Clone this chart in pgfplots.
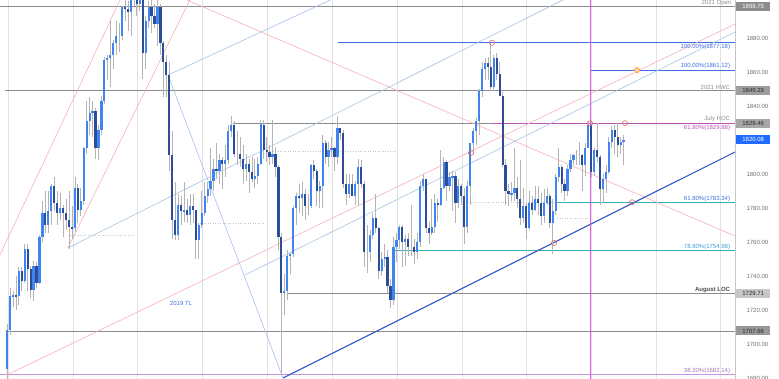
\documentclass[border=0pt]{standalone}
\usepackage{fontspec}
\setmainfont{Liberation Sans}
\usepackage{pgfplots}
\usepackage{pgfplotstable}
\pgfplotsset{compat=1.18}
\definecolor{upblue}{HTML}{3F84F0}
\definecolor{dnblue}{HTML}{2C4E96}
\definecolor{wick}{HTML}{B4B4B4}
\definecolor{tlblue}{HTML}{3F63C9}
\definecolor{ltblue}{HTML}{A3C2EC}
\definecolor{pinkl}{HTML}{F4AFBC}
\definecolor{magl}{HTML}{E35FEA}
\definecolor{magh}{HTML}{B855B8}
\definecolor{purp}{HTML}{C892E4}
\definecolor{tealc}{HTML}{3AB0B8}
\definecolor{levg}{HTML}{8C8C8C}
\definecolor{gridg}{HTML}{E2E2E2}
\definecolor{fibblue}{HTML}{3E6FE0}
\definecolor{fibteal}{HTML}{3C9AD6}
\definecolor{ticktxt}{HTML}{707070}
\definecolor{lastblue}{HTML}{1F6BFF}
\definecolor{circred}{HTML}{E06A6A}

\pgfplotstableread{
i o h l c
0 1685 1712 1678 1708
1 1708 1733 1705 1728
2 1728 1731 1722 1729
3 1729 1740 1720 1728
4 1728 1745 1723 1743
5 1743 1745 1731 1737
6 1737 1759 1736 1756
7 1756 1759 1731 1744
8 1744 1746 1727 1732
9 1732 1749 1725 1746
10 1746 1748 1733 1736
11 1736 1764 1735 1763
12 1763 1784 1760 1777
13 1777 1790 1765 1770
14 1770 1790 1765 1778
15 1778 1794 1770 1793
16 1793 1798 1778 1783
17 1783 1790 1770 1777
18 1777 1789 1773 1780
19 1780 1782 1763 1777
20 1777 1785 1767 1773
21 1773 1790 1756 1769
22 1769 1781 1762 1768
23 1768 1798 1766 1792
24 1792 1794 1771 1779
25 1779 1792 1775 1784
26 1784 1816 1782 1815
27 1815 1843 1812 1831
28 1831 1845 1823 1836
29 1836 1843 1822 1837
30 1837 1839 1809 1815
31 1815 1829 1808 1826
32 1826 1846 1823 1843
33 1843 1869 1841 1867
34 1867 1870 1855 1868
35 1868 1890 1851 1870
36 1870 1879 1862 1877
37 1877 1890 1870 1881
38 1881 1889 1872 1881
39 1881 1899 1879 1898
40 1898 1912 1890 1897
41 1897 1902 1884 1895
42 1895 1906 1881 1903
43 1903 1908 1899 1906
44 1906 1916 1893 1900
45 1900 1910 1896 1908
46 1908 1910 1856 1871
47 1871 1893 1862 1890
48 1890 1902 1886 1898
49 1898 1903 1883 1893
50 1893 1900 1886 1888
51 1888 1903 1875 1898
52 1898 1900 1870 1877
53 1877 1878 1845 1866
54 1866 1870 1845 1858
55 1858 1866 1802 1811
56 1811 1825 1762 1773
57 1773 1795 1761 1764
58 1764 1788 1761 1782
59 1782 1787 1770 1778
60 1778 1795 1772 1779
61 1779 1785 1771 1776
62 1776 1788 1770 1781
63 1781 1788 1771 1779
64 1779 1779 1750 1761
65 1761 1771 1750 1770
66 1770 1790 1768 1777
67 1777 1795 1775 1787
68 1787 1795 1783 1791
69 1791 1815 1787 1796
70 1796 1809 1790 1803
71 1803 1818 1797 1802
72 1802 1812 1794 1808
73 1808 1810 1791 1806
74 1806 1817 1798 1808
75 1808 1829 1806 1825
76 1825 1834 1822 1829
77 1829 1831 1810 1812
78 1812 1825 1805 1812
79 1812 1822 1804 1809
80 1809 1817 1794 1803
81 1803 1812 1796 1806
82 1806 1809 1789 1801
83 1801 1810 1795 1797
84 1797 1809 1792 1799
85 1799 1810 1794 1806
86 1806 1832 1805 1829.46
87 1829 1832 1809 1814
88 1814 1822 1807 1813
89 1813 1817 1805 1810
90 1810 1832 1806 1812
91 1812 1816 1798 1804
92 1804 1805 1755 1763
93 1763 1765 1682 1729.71
94 1730 1741 1717 1731
95 1731 1755 1726 1752
96 1752 1754 1741 1753
97 1753 1781 1751 1780
98 1780 1789 1770 1787
99 1787 1794 1777 1786
100 1786 1795 1775 1788
101 1788 1791 1773 1781
102 1781 1788 1776 1781
103 1781 1806 1780 1805
104 1805 1808 1797 1802
105 1802 1803 1781 1790
106 1790 1796 1780 1793
107 1793 1823 1780 1818
108 1818 1820 1806 1810
109 1810 1819 1804 1814
110 1814 1822 1810 1815
111 1815 1816 1802 1810
112 1810 1834 1806 1827
113 1827 1827 1820 1824
114 1824 1826 1792 1794
115 1794 1800 1782 1788
116 1788 1800 1786 1794
117 1794 1800 1787 1787
118 1787 1796 1782 1794
119 1794 1809 1781 1804
120 1804 1808 1792 1794
121 1794 1796 1745 1754
122 1754 1770 1742 1754
123 1754 1767 1748 1764
124 1764 1777 1762 1774
125 1774 1788 1765 1768
126 1768 1769 1738 1743
127 1743 1754 1740 1750
128 1750 1759 1745 1751
129 1751 1755 1730 1734
130 1734 1738 1721 1726
131 1726 1763 1723 1757
132 1757 1765 1748 1761
133 1761 1770 1756 1769
134 1769 1770 1745 1760
135 1760 1764 1746 1762
136 1762 1765 1752 1757
137 1757 1782 1752 1757
138 1757 1762 1747 1754
139 1754 1765 1750 1760
140 1760 1796 1757 1793
141 1793 1800 1790 1797
142 1797 1797 1765 1768
143 1768 1772 1759 1765
144 1765 1785 1764 1769
145 1769 1788 1765 1783
146 1783 1785 1772 1782
147 1782 1814 1781 1792
148 1792 1810 1791 1807
149 1807 1808 1784 1793
150 1793 1801 1790 1798
151 1798 1802 1778 1799
152 1799 1801 1771 1783
153 1783 1797 1780 1793
154 1793 1794 1782 1787
155 1787 1792 1759 1769
156 1769 1796 1765 1793
157 1793 1818 1782 1818
158 1818 1827 1812 1825
159 1825 1833 1817 1831
160 1831 1850 1823 1849
161 1849 1866 1845 1862
162 1862 1868 1855 1865
163 1865 1869 1855 1863
164 1863 1877 1850 1851
165 1851 1870 1849 1868
166 1868 1871 1855 1859
167 1859 1866 1846 1846
168 1846 1848 1804 1805
169 1805 1809 1782 1790
170 1790 1794 1781 1788
171 1788 1795 1784 1789
172 1789 1815 1784 1792
173 1792 1798 1780 1785
174 1785 1808 1770 1774
175 1774 1792 1771 1781
176 1781 1783 1762 1768
177 1768 1790 1767 1783
178 1783 1787 1776 1779
179 1779 1793 1778 1785
180 1785 1793 1776 1783
181 1783 1789 1770 1775
182 1775 1791 1771 1783
183 1783 1792 1782 1787
184 1787 1788 1768 1771
185 1771 1785 1753 1778
186 1778 1800 1776 1798
187 1798 1815 1795 1804
188 1804 1805 1789 1794
189 1794 1797 1784 1790
190 1790 1805 1787 1803
191 1803 1812 1801 1808
192 1808 1812 1805 1811
193 1811 1814 1805 1811
194 1811 1819 1805 1811
195 1811 1812 1790 1805
196 1805 1818 1799 1815
197 1815 1831 1815 1829
198 1829 1831 1798 1801
199 1801 1815 1799 1814
200 1814 1830 1807 1810
201 1810 1811 1782 1791
202 1791 1800 1783 1797
203 1797 1805 1789 1801
204 1801 1822 1800 1819
205 1819 1828 1815 1826
206 1826 1829 1812 1822
207 1822 1830 1810 1817
208 1817 1822 1812 1819
209 1819 1823 1805 1820.08
}\ohlc

\pgfplotsset{candle/.style={only marks, mark=*, mark size=0pt, mark options={draw=none, fill=none}}}

\begin{document}
\begin{tikzpicture}[x=1pt,y=1pt]
\begin{axis}[
  at={(0pt,0pt)}, anchor=south west,
  scale only axis, width=735pt, height=379pt,
  xmin=0, xmax=735, ymin=1679.4, ymax=1902.35,
  axis line style={draw=none},
  xtick={8,73,137,202,267,332,397,462,526,591,656,720},
  xticklabels={}, xmajorgrids, major grid style={gridg, line width=0.6pt},
  major tick length=0pt,
  ytick={1680,1700,1720,1740,1760,1780,1800,1840,1860,1880},
  yticklabel pos=right,
  yticklabel style={font=\fontsize{6}{7}\selectfont, text=ticktxt, xshift=8pt},
  /pgf/number format/fixed, /pgf/number format/fixed zerofill,
  /pgf/number format/precision=2, /pgf/number format/1000 sep={},
  /pgf/number format/assume math mode=true,
]
% faint dotted levels
\addplot[gray!45, dotted, line width=0.5pt] coordinates {(270,1813.5) (397,1813.5)};
\addplot[gray!45, dotted, line width=0.5pt] coordinates {(70,1764) (133,1764)};
\addplot[gray!45, dotted, line width=0.5pt] coordinates {(200,1771) (263,1771)};
\addplot[gray!45, dotted, line width=0.5pt] coordinates {(463,1783.3) (557,1783.3)};
\addplot[gray!45, dotted, line width=0.5pt] coordinates {(557,1774) (590,1774)};
% gray levels
\addplot[levg, line width=0.8pt] coordinates {(0,1898.75) (735,1898.75)};
\addplot[levg, line width=0.8pt] coordinates {(5,1849.29) (735,1849.29)};
\addplot[levg, line width=0.8pt] coordinates {(233,1829.46) (735,1829.46)};
\addplot[levg, line width=0.8pt] coordinates {(287,1729.71) (735,1729.71)};
\addplot[levg, line width=0.8pt] coordinates {(7,1707.66) (735,1707.66)};
% fib levels
\addplot[fibblue, line width=1pt] coordinates {(338,1877.18) (735,1877.18)};
\addplot[fibblue, line width=1pt] coordinates {(590,1861.12) (735,1861.12)};
\addplot[magh, line width=1pt] coordinates {(492,1829.88) (735,1829.88)};
\addplot[tealc, line width=1pt] coordinates {(555,1783.34) (735,1783.34)};
\addplot[tealc, line width=1pt] coordinates {(393,1754.98) (735,1754.98)};
\addplot[purp, line width=1.6pt] coordinates {(0,1682.14) (735,1682.14)};
% pink fan lines
\addplot[pinkl, line width=0.6pt] coordinates {(0,1752.4) (125,1908.6)};
\addplot[pinkl, line width=0.6pt] coordinates {(68,1756.5) (192,1905)};
\addplot[pinkl, line width=0.6pt] coordinates {(187,1902.35) (735,1763.5)};
\addplot[pinkl, line width=0.6pt] coordinates {(7,1681.8) (735,1888.2)};
% light blue channel lines
\addplot[ltblue, line width=0.6pt] coordinates {(68,1756.5) (600,1913.3)};
\addplot[ltblue, line width=0.6pt] coordinates {(168,1858.2) (340,1905.0)};
\addplot[ltblue, line width=0.6pt] coordinates {(168,1858.2) (283,1680)};
\addplot[ltblue, line width=0.6pt] coordinates {(245,1740.6) (735,1883.5)};
% main trendline
\addplot[tlblue, line width=1.2pt] coordinates {(283,1680) (735,1812.9)};
% magenta vertical
\addplot[magl, line width=0.7pt] coordinates {(590,1679.4) (590,1902.35)};
% wicks
\addplot[candle, error bars/.cd, y dir=both, y explicit, error mark=none,
  error bar style={draw=wick, line width=0.7pt}]
  table[x expr=7+2.95*\thisrow{i}, y expr=0.5*(\thisrow{h}+\thisrow{l}), y error expr=0.5*(\thisrow{h}-\thisrow{l})] {\ohlc};
% up bodies
\addplot[candle, restrict expr to domain={\thisrow{c}-\thisrow{o}}{0:1000},
  error bars/.cd, y dir=both, y explicit, error mark=none,
  error bar style={draw=upblue, line width=2.2pt}]
  table[x expr=7+2.95*\thisrow{i}, y expr=0.5*(\thisrow{o}+\thisrow{c}), y error expr=0.5*abs(\thisrow{c}-\thisrow{o})] {\ohlc};
% down bodies
\addplot[candle, restrict expr to domain={\thisrow{c}-\thisrow{o}}{-1000:-0.0001},
  error bars/.cd, y dir=both, y explicit, error mark=none,
  error bar style={draw=dnblue, line width=2.2pt}]
  table[x expr=7+2.95*\thisrow{i}, y expr=0.5*(\thisrow{o}+\thisrow{c}), y error expr=0.5*abs(\thisrow{c}-\thisrow{o})] {\ohlc};
% circles
\addplot[only marks, mark=o, mark size=2.6pt, circred, line width=0.6pt] coordinates {
 (492,1877.18) (471,1812.4) (590,1829.88) (625,1829.88) (632,1783.34) (554,1759.4)};
\addplot[only marks, mark=*, mark size=2.6pt, draw=orange!80, fill=orange!35, line width=0.6pt] coordinates {(637,1861.12)};
% texts
\node[anchor=south east, inner sep=0.5pt, font=\fontsize{6}{7}\selectfont, text=levg] at (axis cs:732,1898.75) {2021 Open};
\node[anchor=north east, inner sep=0.8pt, font=\fontsize{6}{7}\selectfont, text=fibblue] at (axis cs:731,1877.18) {100.00\%(1877.18)};
\node[anchor=south east, inner sep=0.8pt, font=\fontsize{6}{7}\selectfont, text=fibblue] at (axis cs:731,1861.12) {100.00\%(1861.12)};
\node[anchor=south east, inner sep=0.8pt, font=\fontsize{6}{7}\selectfont, text=levg] at (axis cs:731,1849.29) {2021 HWC};
\node[anchor=south east, inner sep=0.8pt, font=\fontsize{6}{7}\selectfont, text=levg] at (axis cs:731,1829.88) {July HOC};
\node[anchor=north east, inner sep=0.8pt, font=\fontsize{6}{7}\selectfont, text=magh] at (axis cs:731,1829.46) {61.80\%(1829.88)};
\node[anchor=south east, inner sep=0.8pt, font=\fontsize{6}{7}\selectfont, text=fibblue] at (axis cs:731,1783.34) {61.80\%(1783.34)};
\node[anchor=south east, inner sep=0.8pt, font=\fontsize{6}{7}\selectfont, text=fibteal] at (axis cs:731,1754.98) {78.60\%(1754.98)};
\node[anchor=south east, inner sep=0.8pt, font=\fontsize{6}{7}\bfseries, text=black!70] at (axis cs:731,1729.71) {August LOC};
\node[anchor=south east, inner sep=0.8pt, font=\fontsize{6}{7}\selectfont, text=purp!80!black] at (axis cs:731,1682.14) {38.20\%(1682.14)};
\node[font=\fontsize{6}{7}\selectfont, text=fibblue] at (axis cs:181,1724.1) {2019 TL};
\end{axis}
% right axis line and price boxes
\draw[gray!45, line width=0.6pt] (735,0) -- (735,379);
\begin{scope}[every node/.style={anchor=west, minimum width=34pt, minimum height=9pt, inner sep=0pt, font=\fontsize{6}{7}\selectfont}]
\node[fill=black!45, text=white] at (736,{(1898.75-1679.4)*1.7}) {1898.75};
\node[fill=black!38, text=black!85] at (736,{(1849.29-1679.4)*1.7}) {1849.29};
\node[fill=black!35, text=black!85] at (736,{(1829.46-1679.4)*1.7}) {1829.46};
\node[fill=lastblue, text=white] at (736,{(1820.08-1679.4)*1.7}) {1820.08};
\node[fill=black!22, text=black!85] at (736,{(1729.71-1679.4)*1.7}) {1729.71};
\node[fill=black!40, text=black!85] at (736,{(1707.66-1679.4)*1.7}) {1707.66};
\end{scope}
\pgfresetboundingbox
\path[use as bounding box] (0,0) rectangle (779,379);
\end{tikzpicture}
\end{document}
